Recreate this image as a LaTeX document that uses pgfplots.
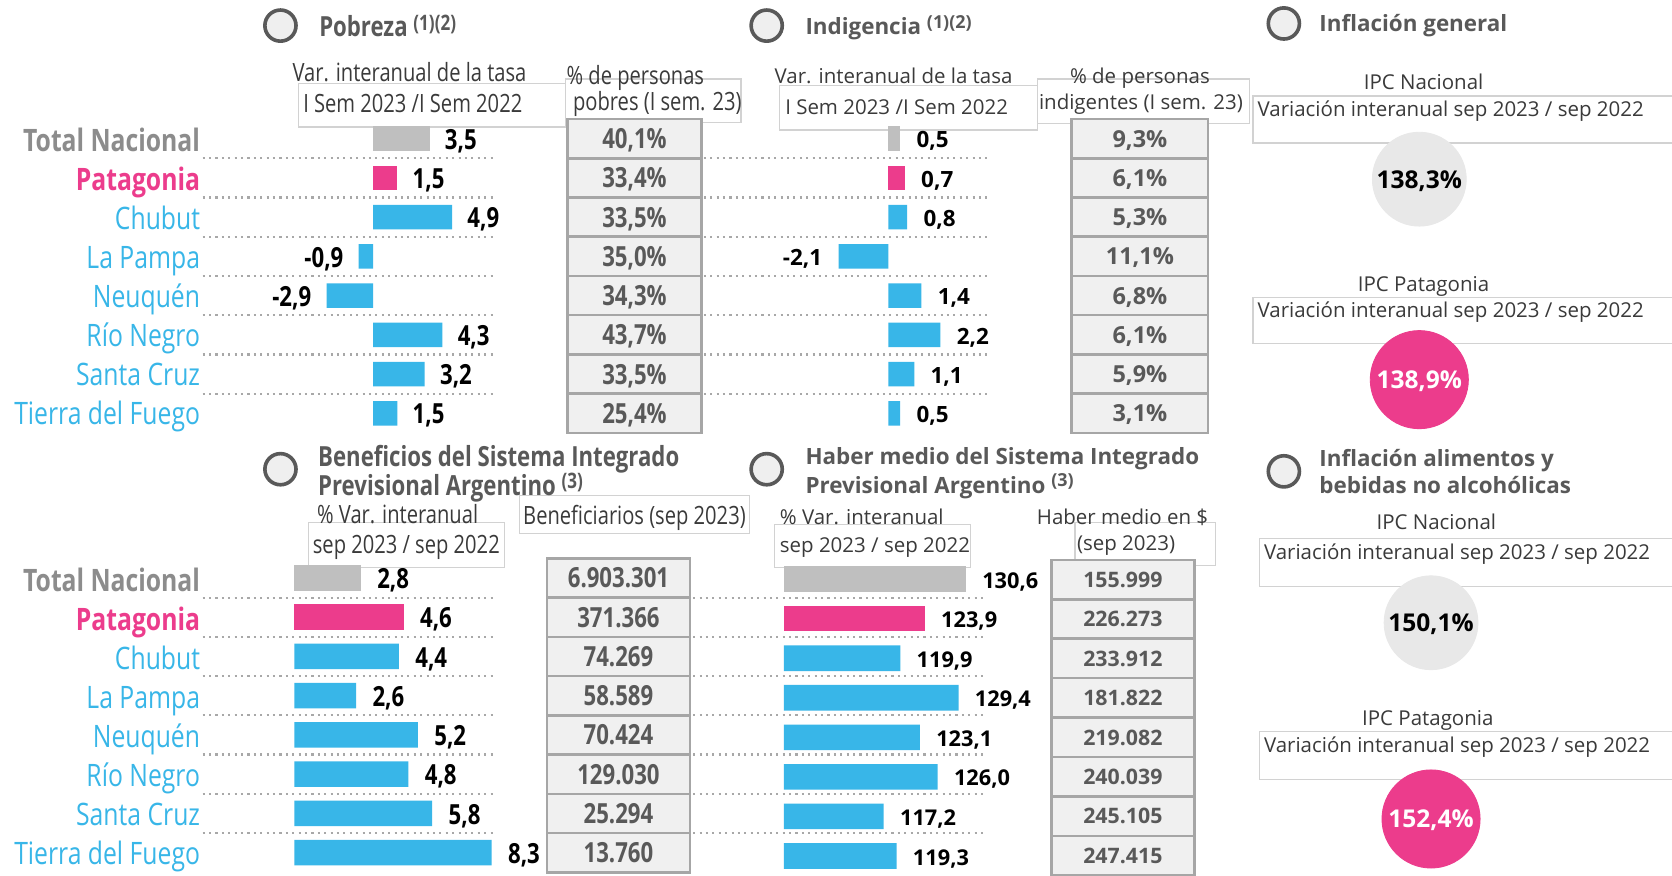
\documentclass[border=0pt]{standalone}
\usepackage{pgfplots}
\pgfplotsset{compat=1.18}
\usepackage{fontspec}
\setmainfont{Open Sans}
\newfontfamily\cond[FakeStretch=0.8]{Open Sans}
\newcommand\fs[1]{\fontsize{#1}{#1}\selectfont}
\definecolor{cy}{HTML}{38B6E8}
\definecolor{pk}{HTML}{EC3C8C}
\definecolor{gb}{HTML}{BFBFBF}
\definecolor{gl}{HTML}{8C8C8C}
\definecolor{tt}{HTML}{595959}
\definecolor{txt}{HTML}{3A3A3A}
\definecolor{cellfill}{HTML}{F0F0F0}
\definecolor{celldraw}{HTML}{A6A6A6}
\definecolor{boxd}{HTML}{D2D2D2}
\definecolor{circg}{HTML}{E8E8E8}
\definecolor{bulf}{HTML}{EFEFEF}
\definecolor{dotc}{HTML}{A8A8A8}
\pgfplotsset{
  barax/.style={anchor=north west, scale only axis, y dir=reverse, ymin=-0.5, ymax=7.5,
    hide axis, xbar, bar shift=0pt, point meta=x, nodes near coords,
    /pgf/number format/fixed, /pgf/number format/fixed zerofill,
    /pgf/number format/precision=1, /pgf/number format/use comma,
    /pgf/number format/assume math mode=true},
}
\begin{document}
\begin{tikzpicture}
\path[use as bounding box] (0,0) rectangle (784pt,-410.5pt);
\fill[white] (0,0) rectangle (784pt,-410.5pt);
\begin{scope}[x=0.5pt,y=-0.5pt]
\tikzset{dl/.style={dotc, line width=1pt, dash pattern=on 1pt off 2pt},
  bx/.style={boxd, line width=0.6pt},
  bul/.style={draw=tt, fill=bulf, line width=1.7pt},
  st/.style={inner sep=0pt, text=txt},
  ttl/.style={anchor=base west, inner sep=0pt, text=tt, align=left}}
\foreach \i in {0,...,6}{
  \draw[dl] (190,{148.4+36.8*\i}) -- (465,{148.4+36.8*\i});
  \draw[dl] (660,{148.4+36.8*\i}) -- (927,{148.4+36.8*\i});
  \draw[dl] (190,{560.4+36.8*\i}) -- (465,{560.4+36.8*\i});
  \draw[dl] (650,{560.4+36.8*\i}) -- (925,{560.4+36.8*\i});
}
% boxes
\draw[bx] (280,78) rectangle (530,119);
\draw[bx] (530,74) rectangle (695,115);
\draw[bx] (731,80) rectangle (973,122);
\draw[bx] (973,74) rectangle (1172,116);
\draw[bx] (1175,90) rectangle (1590,134);
\draw[bx] (1175,279) rectangle (1590,322);
\draw[bx] (289,490) rectangle (473,532);
\draw[bx] (487,465) rectangle (703,500);
\draw[bx] (726,492) rectangle (910,532);
\draw[bx] (1008,490) rectangle (1140,530);
\draw[bx] (1181,505) rectangle (1590,550);
\draw[bx] (1181,686) rectangle (1590,731);
% bullets
\foreach \x/\y in {263/24, 719/24, 1204/22, 263/440, 719/440, 1204/442}
  \draw[bul] (\x,\y) circle[radius=7.3pt];
% titles
\node[ttl, font=\cond\bfseries\fs{13pt}] at (299,34.4) {Pobreza \raisebox{3pt}{\fs{10pt}(1)(2)}};
\node[ttl, font=\bfseries\fs{10.5pt}] at (755,32.6) {Indigencia \raisebox{3pt}{\fs{8.4pt}(1)(2)}};
\node[ttl, font=\bfseries\fs{10.5pt}] at (1237,29.5) {Inflación general};
\node[ttl, font=\cond\bfseries\fs{13pt}] at (298,464.4) {Beneficios del Sistema Integrado\\[-1pt] Previsional Argentino \raisebox{3pt}{\fs{10pt}(3)}};
\node[ttl, font=\bfseries\fs{10.5pt}] at (755,462.6) {Haber medio del Sistema Integrado\\[1pt] Previsional Argentino \raisebox{3pt}{\fs{8.4pt}(3)}};
\node[ttl, font=\bfseries\fs{10.5pt}] at (1237,462.5) {Inflación alimentos y\\[1pt] bebidas no alcohólicas};
% subheaders left (condensed)
\tikzset{sl/.style={st, font=\cond\fs{11.8pt}}, sr/.style={st, font=\fs{9.6pt}}}
\node[sl, anchor=base] at (384,76.5) {Var. interanual de la tasa};
\node[sl, anchor=base west] at (284,105.5) {I Sem 2023 /I Sem 2022};
\node[sl, anchor=base west] at (531,79.5) {\% de personas};
\node[sl, anchor=base west] at (537,103.5) {pobres (I sem. 23)};
\node[sl, anchor=base west] at (297,490.5) {\% Var. interanual};
\node[sl, anchor=base west] at (293,519.5) {sep 2023 / sep 2022};
\node[sl, anchor=base] at (595,491.5) {Beneficiarios (sep 2023)};
% subheaders mid/right
\node[sr, anchor=base] at (838,77.9) {Var. interanual de la tasa};
\node[sr, anchor=base west] at (736,106.9) {I Sem 2023 /I Sem 2022};
\node[sr, anchor=base] at (1069,77.9) {\% de personas};
\node[sr, anchor=base] at (1070,102.9) {indigentes (I sem. 23)};
\node[sr, anchor=base] at (1335,83.9) {IPC Nacional};
\node[sr, anchor=base west] at (1179,108.9) {Variación interanual sep 2023 / sep 2022};
\node[sr, anchor=base] at (1335,272.9) {IPC Patagonia};
\node[sr, anchor=base west] at (1179,297.9) {Variación interanual sep 2023 / sep 2022};
\node[sr, anchor=base west] at (731,491.9) {\% Var. interanual};
\node[sr, anchor=base west] at (731,517.9) {sep 2023 / sep 2022};
\node[sr, anchor=base west] at (972,491.9) {Haber medio en \$};
\node[sr, anchor=base] at (1056,515.9) {(sep 2023)};
\node[sr, anchor=base] at (1347,496.9) {IPC Nacional};
\node[sr, anchor=base west] at (1185,524.9) {Variación interanual sep 2023 / sep 2022};
\node[sr, anchor=base] at (1339,679.9) {IPC Patagonia};
\node[sr, anchor=base west] at (1185,705.9) {Variación interanual sep 2023 / sep 2022};
% row labels
\foreach \t/\c/\w [count=\i from 0] in {Total Nacional/gl/\bfseries, Patagonia/pk/\bfseries, Chubut/cy/\mdseries, La Pampa/cy/\mdseries, Neuquén/cy/\mdseries, Río Negro/cy/\mdseries, Santa Cruz/cy/\mdseries, Tierra del Fuego/cy/\mdseries}{
  \node[anchor=base east, inner sep=0pt, text=\c, font=\cond\w\fs{14.5pt}] at (188,{142+36.6*\i}) {\t};
  \node[anchor=base east, inner sep=0pt, text=\c, font=\cond\w\fs{14.5pt}] at (188,{555+36.5*\i}) {\t};
}
\end{scope}

% Pobreza bars
\begin{axis}[barax, at={(95pt,-55.8pt)}, width=137.5pt, height=147.2pt,
  xmin=-10.596, xmax=7.616, bar width=11.5pt, clip=false,
  every node near coord/.append style={font=\cond\bfseries\fs{13pt}, text=black, inner xsep=7pt, inner ysep=0pt, yshift=-1.2pt}]
\addplot[draw=none, fill=gb] coordinates {(3.5,0)};
\addplot[draw=none, fill=pk] coordinates {(1.5,1)};
\addplot[draw=none, fill=cy] coordinates {(4.9,2) (-0.9,3) (-2.9,4) (4.3,5) (3.2,6) (1.5,7)};
\end{axis}

% Indigencia bars
\begin{axis}[barax, at={(330pt,-55.8pt)}, width=133.5pt, height=147.2pt,
  xmin=-7.793, xmax=4.234, bar width=11.5pt, clip=false,
  every node near coord/.append style={font=\bfseries\fs{10.5pt}, text=black, inner xsep=7.5pt, inner ysep=0pt, yshift=-1.2pt}]
\addplot[draw=none, fill=gb] coordinates {(0.5,0)};
\addplot[draw=none, fill=pk] coordinates {(0.7,1)};
\addplot[draw=none, fill=cy] coordinates {(0.8,2) (-2.1,3) (1.4,4) (2.2,5) (1.1,6) (0.5,7)};
\end{axis}

% Beneficios bars
\begin{axis}[barax, at={(95pt,-261.8pt)}, width=137.5pt, height=147.2pt,
  xmin=-3.857, xmax=8.475, bar width=12pt, clip=false,
  every node near coord/.append style={font=\cond\bfseries\fs{13pt}, text=black, inner xsep=7.5pt, inner ysep=0pt, yshift=-1.2pt}]
\addplot[draw=none, fill=gb] coordinates {(2.8,0)};
\addplot[draw=none, fill=pk] coordinates {(4.6,1)};
\addplot[draw=none, fill=cy] coordinates {(4.4,2) (2.6,3) (5.2,4) (4.8,5) (5.8,6) (8.3,7)};
\end{axis}

% Haber medio bars
\begin{axis}[barax, at={(367.5pt,-262.25pt)}, width=127.5pt, height=148.4pt,
  xmin=100.9, xmax=145.25, bar width=12pt,
  every node near coord/.append style={font=\bfseries\fs{10.2pt}, text=black, inner xsep=7.5pt, inner ysep=0pt, yshift=-1.2pt}]
\addplot[draw=none, fill=gb] coordinates {(130.6,0)};
\addplot[draw=none, fill=pk] coordinates {(123.9,1)};
\addplot[draw=none, fill=cy] coordinates {(119.9,2) (129.4,3) (123.1,4) (126.0,5) (117.2,6) (119.3,7)};
\end{axis}

% inflation circles
\begin{axis}[at={(0pt,0pt)}, anchor=north west, scale only axis, width=784pt, height=410.5pt,
  xmin=0, xmax=1568, ymin=0, ymax=821, y dir=reverse, hide axis, clip=false]
\addplot[only marks, mark=*, color=circg, mark size=22pt] coordinates {(1331,168) (1342,584)};
\addplot[only marks, mark=*, color=pk, mark size=23pt] coordinates {(1331,356) (1342,768)};
\end{axis}

\begin{scope}[x=0.5pt,y=-0.5pt]
\tikzset{cell/.style={fill=cellfill, draw=celldraw, line width=1.2pt}}
\foreach \v [count=\i from 0] in {{40,1\%},{33,4\%},{33,5\%},{35,0\%},{34,3\%},{43,7\%},{33,5\%},{25,4\%}}{
  \draw[cell] (532,{111.6+36.8*\i}) rectangle (658,{148.4+36.8*\i});
  \node[anchor=base, inner sep=0pt, text=tt, font=\cond\bfseries\fs{13pt}] at (595,{139.4+36.8*\i}) {\v};
}
\foreach \v [count=\i from 0] in {{9,3\%},{6,1\%},{5,3\%},{11,1\%},{6,8\%},{6,1\%},{5,9\%},{3,1\%}}{
  \draw[cell] (1005,{111.6+36.8*\i}) rectangle (1133,{148.4+36.8*\i});
  \node[anchor=base, inner sep=0pt, text=tt, font=\bfseries\fs{11pt}] at (1069,{137.9+36.8*\i}) {\v};
}
\foreach \v [count=\i from 0] in {6.903.301,371.366,74.269,58.589,70.424,129.030,25.294,13.760}{
  \draw[cell] (513,{523.6+36.8*\i}) rectangle (647,{560.4+36.8*\i});
  \node[anchor=base, inner sep=0pt, text=tt, font=\cond\bfseries\fs{13pt}] at (580,{551.4+36.8*\i}) {\v};
}
\foreach \v [count=\i from 0] in {155.999,226.273,233.912,181.822,219.082,240.039,245.105,247.415}{
  \draw[cell] (986,{525+37*\i}) rectangle (1120,{562+37*\i});
  \node[anchor=base, inner sep=0pt, text=tt, font=\bfseries\fs{10pt}] at (1053,{550.7+37*\i}) {\v};
}
\node[anchor=base, inner sep=0pt, text=black, font=\bfseries\fs{11.5pt}] at (1331,176.3) {138,3\%};
\node[anchor=base, inner sep=0pt, text=white, font=\bfseries\fs{11.5pt}] at (1331,364.3) {138,9\%};
\node[anchor=base, inner sep=0pt, text=black, font=\bfseries\fs{11.5pt}] at (1342,592.3) {150,1\%};
\node[anchor=base, inner sep=0pt, text=white, font=\bfseries\fs{11.5pt}] at (1342,776.3) {152,4\%};
\end{scope}
\end{tikzpicture}
\end{document}
